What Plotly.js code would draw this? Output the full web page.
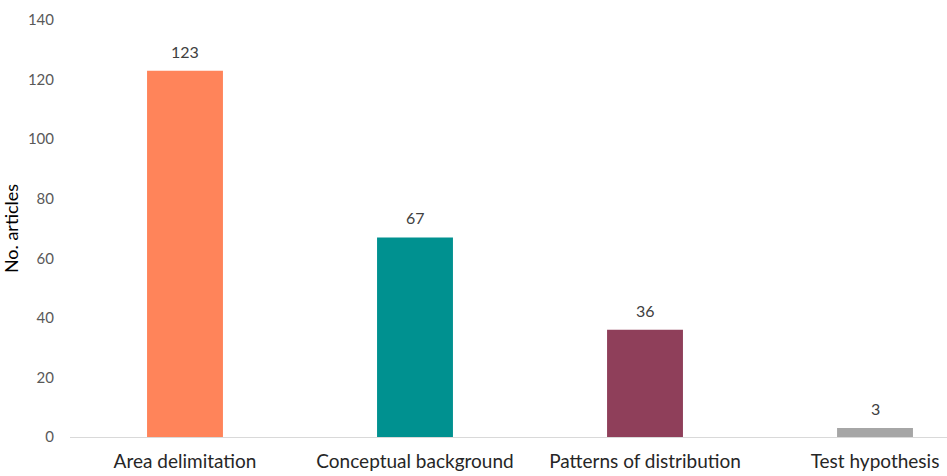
<!DOCTYPE html>
<html><head><meta charset="utf-8">
<script src="https://cdn.plot.ly/plotly-3.0.1.min.js"></script>
<style>html,body{margin:0;padding:0;background:#fff}#chart{width:947px;height:476px}</style>
</head><body><div id="chart"></div>
<script>
const categories = ["Area delimitation", "Conceptual background", "Patterns of distribution", "Test hypothesis"];
const values = [123, 67, 36, 3];
const colors = ["#FF845A", "#009190", "#8F3F5A", "#A6A6A6"];
const yTicks = [0, 20, 40, 60, 80, 100, 120, 140];

const FONT = "Lato, 'Open Sans', sans-serif";

const trace = {
  type: "bar",
  x: categories,
  y: values,
  width: 0.33,
  marker: {color: colors},
  hoverinfo: "none"
};

const annotations = categories.map((c, i) => ({
  x: c, y: values[i], xref: "x", yref: "y",
  text: String(values[i]),
  showarrow: false,
  yanchor: "bottom",
  yshift: 8,
  font: {family: FONT, size: 16, color: "#404040"}
}));

const layout = {
  width: 947, height: 476,
  margin: {l: 70, r: 0, t: 20, b: 39},
  paper_bgcolor: "#fff", plot_bgcolor: "#fff",
  showlegend: false,
  font: {family: FONT},
  annotations: annotations,
  xaxis: {
    type: "category",
    range: [-0.5, 3.313],
    showgrid: false, zeroline: false,
    showline: true, linecolor: "#D9D9D9", linewidth: 1,
    ticks: "outside", ticklen: 7, tickcolor: "rgba(0,0,0,0)",
    tickfont: {size: 19, color: "#262626"}
  },
  yaxis: {
    range: [0, 140],
    tickvals: yTicks,
    showgrid: false, zeroline: false, showline: false,
    ticks: "outside", ticklen: 12, tickcolor: "rgba(0,0,0,0)",
    tickfont: {size: 15, color: "#595959"},
    title: {text: "No. articles", font: {size: 18, color: "#000"}, standoff: 8}
  }
};

Plotly.newPlot("chart", [trace], layout, {displayModeBar: false, staticPlot: true});
</script>
</body></html>
